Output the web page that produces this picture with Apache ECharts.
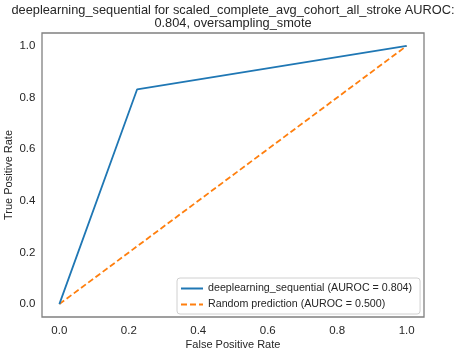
<!DOCTYPE html>
<html>
<head>
<meta charset="utf-8">
<script src="https://cdn.jsdelivr.net/npm/echarts@6/dist/echarts.min.js"></script>
<style>
  html, body { margin: 0; padding: 0; background: #fff; }
  #chart { width: 455px; height: 353px; }
</style>
</head>
<body>
<div id="chart"></div>
<script>
// ROC curve of the sequential model, plus the chance diagonal
const modelName = 'deeplearning_sequential';
const fpr = [0, 0.224, 1];
const tpr = [0, 0.832, 1];
const randomFpr = [0, 1];
const randomTpr = [0, 1];
const aurocModel = 0.804;
const aurocRandom = 0.500;
const axisTicks = [0, 0.2, 0.4, 0.6, 0.8, 1.0];

const titleText = modelName + ' for scaled_complete_avg_cohort_all_stroke AUROC:\n' +
  aurocModel.toFixed(3) + ', oversampling_smote';

const font = 'Liberation Sans, Arial, sans-serif';
const textColor = '#262626';

const chart = echarts.init(document.getElementById('chart'));

// plot frame (axes box includes a 5% margin on every side of the 0..1 data range)
const frame = { x: 42, y: 33, w: 382, h: 284 };
const dataLeft = frame.x + frame.w * 0.05 / 1.1;
const dataTop = frame.y + frame.h * 0.05 / 1.1;
const dataW = frame.w / 1.1;
const dataH = frame.h / 1.1;

const modelLabel = modelName + ' (AUROC = ' + aurocModel.toFixed(3) + ')';
const randomLabel = 'Random prediction (AUROC = ' + aurocRandom.toFixed(3) + ')';

chart.setOption({
  animation: false,
  backgroundColor: '#fff',
  textStyle: { fontFamily: font },
  title: {
    text: titleText,
    left: 228,
    top: 0,
    padding: [4.5, 5, 3, 5],
    textAlign: 'center',
    textStyle: { fontFamily: font, fontSize: 12.8, fontWeight: 'normal', color: textColor, lineHeight: 12.5 }
  },
  graphic: [{
    type: 'rect',
    shape: { x: frame.x, y: frame.y, width: frame.w, height: frame.h },
    style: { fill: 'none', stroke: '#808080', lineWidth: 1.3 },
    silent: true,
    z: 1
  }],
  grid: { left: dataLeft, top: dataTop, width: dataW, height: dataH,
    containLabel: false, outerBoundsMode: 'none' },
  xAxis: {
    type: 'value', min: 0, max: 1, interval: 0.2,
    name: 'False Positive Rate', nameLocation: 'middle', nameGap: 35, nameMoveOverlap: false,
    nameTextStyle: { fontSize: 11, color: textColor, fontFamily: font },
    axisLine: { show: false }, axisTick: { show: false }, splitLine: { show: false },
    axisLabel: { margin: 21, fontSize: 11.5, color: textColor, fontFamily: font,
      formatter: v => v.toFixed(1) }
  },
  yAxis: {
    type: 'value', min: 0, max: 1, interval: 0.2,
    name: 'True Positive Rate', nameLocation: 'middle', nameGap: 45, nameMoveOverlap: false,
    nameTextStyle: { fontSize: 11, color: textColor, fontFamily: font },
    axisLine: { show: false }, axisTick: { show: false }, splitLine: { show: false },
    axisLabel: { margin: 24, fontSize: 11.5, color: textColor, fontFamily: font,
      formatter: v => v.toFixed(1) }
  },
  legend: {
    orient: 'vertical',
    left: 177, top: 278,
    itemWidth: 22, itemHeight: 10, itemGap: 5,
    padding: [5, 8, 4, 3],
    backgroundColor: '#fff',
    borderColor: '#d0d0d0', borderWidth: 1, borderRadius: 3,
    itemStyle: { opacity: 0 },
    textStyle: { fontSize: 10.7, color: textColor, fontFamily: font },
    data: [modelLabel, randomLabel]
  },
  series: [
    {
      name: modelLabel,
      type: 'line',
      data: fpr.map((x, i) => [x, tpr[i]]),
      symbol: 'none',
      lineStyle: { color: '#1f77b4', width: 1.8 },
      itemStyle: { color: '#1f77b4' },
      z: 3
    },
    {
      name: randomLabel,
      type: 'line',
      data: randomFpr.map((x, i) => [x, randomTpr[i]]),
      symbol: 'none',
      lineStyle: { color: '#ff7f0e', width: 1.8, type: [6, 3] },
      itemStyle: { color: '#ff7f0e' },
      z: 2
    }
  ]
});
</script>
</body>
</html>
